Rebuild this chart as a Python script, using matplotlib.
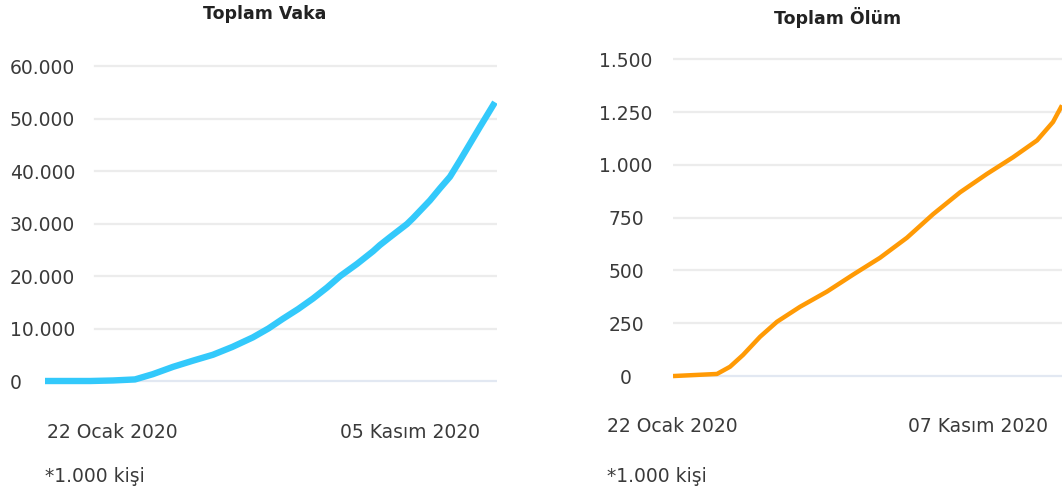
# Toplam vaka / toplam ölüm (dünya, bin kişi) - iki panelli çizgi grafik
import matplotlib.pyplot as plt

W, H = 1062, 492

# --- veriler (22 Ocak 2020'den itibaren gün, bin kişi) ---
vaka_gun = [0, 29, 43.5, 57.6, 69, 82, 95, 107.5, 120, 133, 143, 152, 162,
            171.5, 180.5, 189, 199.7, 209.9, 214.4, 220.8, 231.7, 235.5,
            246.4, 252.8, 259.2, 265.6, 272, 278.4, 283.5, 288]
vaka = [0, 0, 100, 300, 1300, 2700, 3900, 5000, 6500, 8300, 10000, 11800,
        13700, 15700, 17800, 20000, 22300, 24700, 25900, 27400, 29900, 31000,
        34400, 36700, 38900, 42000, 45200, 48400, 50900, 53100]

olum_gun = [0, 32.8, 42.5, 52.2, 64.9, 77.5, 94.7, 114.8, 134.2, 154.3,
            174.4, 193.8, 214, 234, 253.5, 271.4, 283.3, 290]
olum = [0, 10, 44, 100, 186, 257, 328, 400, 480, 560, 655, 766, 870, 957,
        1036, 1116, 1203, 1282]

vaka_ticks = [0, 10000, 20000, 30000, 40000, 50000, 60000]
vaka_labels = ["0", "10.000", "20.000", "30.000", "40.000", "50.000", "60.000"]
olum_ticks = [0, 250, 500, 750, 1000, 1250, 1500]
olum_labels = ["0", "250", "500", "750", "1.000", "1.250", "1.500"]

TEXT = "#3a3a3a"
GRID = "#ececec"
ZERO = "#e2e8f2"


def px_axes(x0, x1, y0, y1):
    # piksel kutusundan figür kesrine
    return [x0 / W, 1 - y1 / H, (x1 - x0) / W, (y1 - y0) / H]


def style(ax, ticks, labels, grid_start, pad, ha):
    for s in ax.spines.values():
        s.set_visible(False)
    ax.set_xticks([])
    ax.set_yticks(ticks)
    ax.set_yticklabels(labels)
    ax.tick_params(axis="y", length=0, pad=pad, labelsize=13.5, labelcolor=TEXT)
    for lab in ax.get_yticklabels():
        lab.set_ha(ha)
    for t in ticks:
        ax.axhline(t, xmin=grid_start, xmax=1, color=ZERO if t == 0 else GRID,
                   lw=1.6, zorder=0)


fig = plt.figure(figsize=(W / 100, H / 100), dpi=100)

# sol panel: toplam vaka
ax1 = fig.add_axes(px_axes(45, 497, 56, 390))
ax1.plot(vaka_gun, vaka, color="#33c9fb", lw=4.6, solid_capstyle="butt",
         solid_joinstyle="round")
ax1.set_xlim(0, 289.3)
ax1.set_ylim(-1714, 61905)
style(ax1, vaka_ticks, vaka_labels, 50 / 452, 25.2, "left")

# sağ panel: toplam ölüm
ax2 = fig.add_axes(px_axes(673, 1062, 50, 390))
ax2.plot(olum_gun, olum, color="#ff9a05", lw=3.2, solid_capstyle="butt",
         solid_joinstyle="round")
ax2.set_xlim(0, 290)
ax2.set_ylim(-66, 1544)
style(ax2, olum_ticks, olum_labels, 0, 33.8, "center")

# başlıklar ve etiketler
fig.text(265 / W, 1 - 14 / H, "Toplam Vaka", ha="center", va="center",
         fontsize=12.5, fontweight="bold", color="#222222")
fig.text(838 / W, 1 - 18 / H, "Toplam Ölüm", ha="center", va="center",
         fontsize=12.5, fontweight="bold", color="#222222")

for x, y, s, ha in [(47, 432, "22 Ocak 2020", "left"),
                    (480, 432, "05 Kasım 2020", "right"),
                    (607, 427, "22 Ocak 2020", "left"),
                    (1048, 427, "07 Kasım 2020", "right"),
                    (45, 476, "*1.000 kişi", "left"),
                    (607, 477, "*1.000 kişi", "left")]:
    fig.text(x / W, 1 - y / H, s, ha=ha, va="center", fontsize=13.5, color=TEXT)

fig.savefig("out.png", dpi=100, facecolor="white")
